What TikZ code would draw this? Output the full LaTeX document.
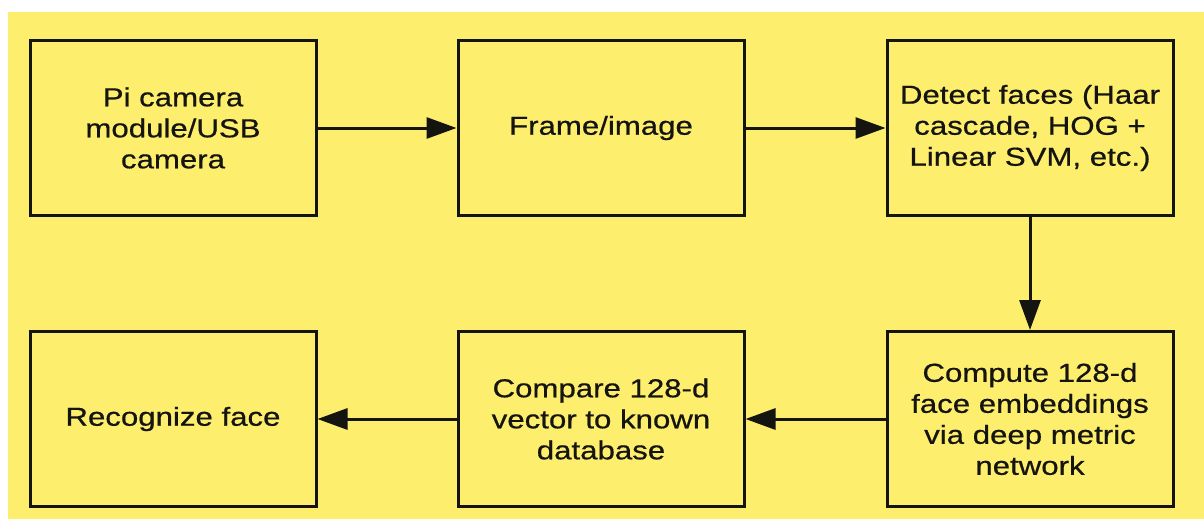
\documentclass[tikz,border=0pt]{standalone}
\usepackage{fontspec}
\setmainfont{Liberation Sans}[FakeStretch=1.2,FakeBold=0.6]
\usetikzlibrary{arrows.meta}
\definecolor{bgyellow}{RGB}{254,238,110}
\definecolor{inkdark}{RGB}{20,20,16}
\tikzset{
  stage/.style={draw=inkdark, line width=3pt, fill=bgyellow,
    minimum width=286pt, minimum height=175pt, inner sep=0pt,
    align=center, text=inkdark,
    font=\fontsize{26pt}{31pt}\selectfont},
  flow/.style={draw=inkdark, line width=3pt,
    -{Triangle[length=30pt,width=21pt]}}
}
\begin{document}
\begin{tikzpicture}[x=1pt,y=-1pt]
  % canvas and backdrop
  \useasboundingbox (0,0) rectangle (1204,519);
  \fill[white] (0,0) rectangle (1204,519);
  \fill[bgyellow] (8,12) rectangle (1204,519);

  % top row
  \node[stage] (cam)    at (173,128)  {Pi camera\\module/USB\\camera};
  \node[stage] (frame)  at (601,128)  {Frame/image};
  \node[stage] (detect) at (1030,128) {Detect faces (Haar\\cascade, HOG +\\Linear SVM, etc.)};

  % bottom row
  \node[stage] (recog)   at (173,419)  {Recognize face};
  \node[stage] (compare) at (601,419)  {Compare 128-d\\vector to known\\database};
  \node[stage] (embed)   at (1030,419) {Compute 128-d\\face embeddings\\via deep metric\\network};

  % pipeline connectors
  \draw[flow] (cam) -- (frame);
  \draw[flow] (frame) -- (detect);
  \draw[flow] (detect) -- (embed);
  \draw[flow] (embed) -- (compare);
  \draw[flow] (compare) -- (recog);
\end{tikzpicture}
\end{document}
